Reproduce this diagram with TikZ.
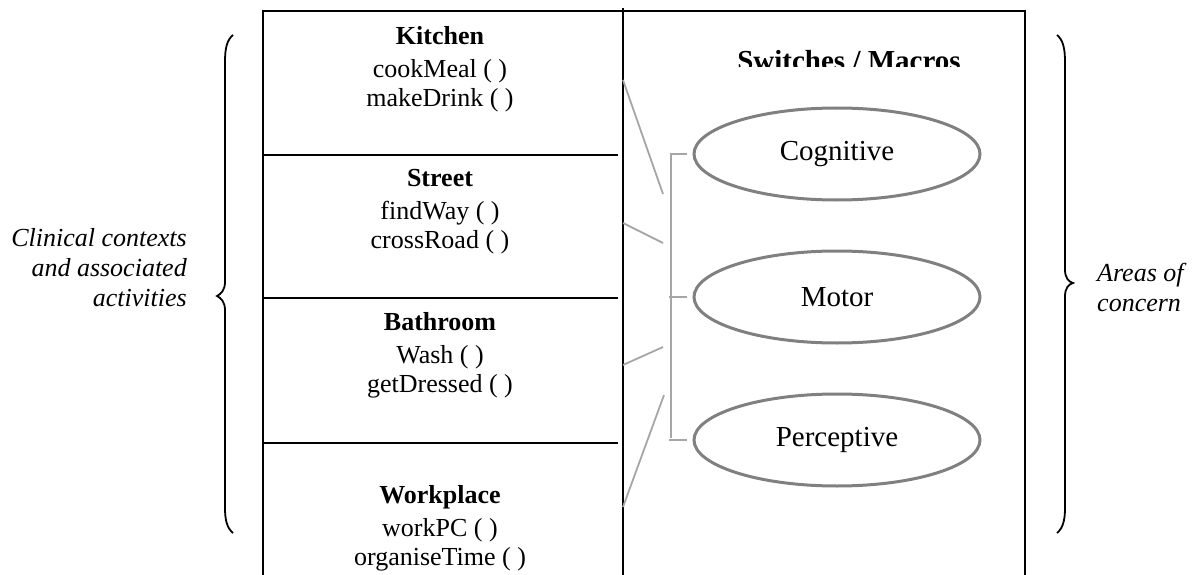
\documentclass[tikz,border=0pt]{standalone}
\usepackage{fontspec}
\setmainfont{Liberation Serif}
\usetikzlibrary{shapes.geometric}

\definecolor{ringgray}{HTML}{808080}
\definecolor{linkgray}{HTML}{A6A6A6}

\tikzset{
  frame/.style={line width=1.8pt, black},
  ctxbox/.style={anchor=north, align=center, inner sep=0pt,
    font=\fontsize{26}{29}\selectfont},
  area/.style={ellipse, draw=ringgray, line width=3pt, inner sep=0pt,
    minimum width=286pt, minimum height=92pt,
    font=\fontsize{29}{33}\selectfont},
  link/.style={linkgray, line width=1.8pt},
  curly/.style={line width=1.8pt, black},
  sidetext/.style={inner sep=0pt, font=\fontsize{26}{30}\selectfont\itshape}
}

\begin{document}
\begin{tikzpicture}[x=1pt, y=-1pt]
\useasboundingbox (0,0) rectangle (1200,575);

% outer frame and column separator
\draw[frame] (263,575) -- (263,11) -- (1025,11) -- (1025,575);
\draw[frame] (623,8) -- (623,575);

% dividers between the context compartments
\draw[frame] (263,155) -- (618,155);
\draw[frame] (263,298) -- (618,298);
\draw[frame] (263,443) -- (618,443);

% contexts with their activities
\node[ctxbox] (kitchen) at (440,26)
  {\textbf{Kitchen}\\[4pt]cookMeal ( )\\makeDrink ( )};
\node[ctxbox] (street) at (440,169)
  {\textbf{Street}\\[4pt]findWay ( )\\crossRoad ( )};
\node[ctxbox] (bathroom) at (440,312)
  {\textbf{Bathroom}\\[4pt]Wash ( )\\getDressed ( )};
\node[ctxbox] (workplace) at (440,485)
  {\textbf{Workplace}\\[4pt]workPC ( )\\organiseTime ( )};

% column heading, cut off at the bottom
\begin{scope}
  \clip (625,13) rectangle (1023,67);
  \node[anchor=base, inner sep=0pt, font=\fontsize{29}{33}\selectfont\bfseries]
    (switches) at (849,71) {Switches / Macros};
\end{scope}

% areas of concern
\node[area] (cog)  at (837,154) {Cognitive};
\node[area] (mot)  at (837,297) {Motor};
\node[area] (perc) at (837,440) {Perceptive};

% bracket gathering the three areas
\coordinate (bt) at (671,154);
\coordinate (bb) at (671,438);
\draw[link] ([xshift=-6pt]cog.west) -- (bt) -- (bb);
\draw[link] ([xshift=-6pt]mot.west) -- (669,297);
\draw[link] ([xshift=-6pt]perc.west) -- (669,440);

% links from each context to the bracket
\coordinate (k1) at (623,80);  \coordinate (k2) at (663,194);
\coordinate (s1) at (623,223); \coordinate (s2) at (663,243);
\coordinate (b1) at (623,365); \coordinate (b2) at (663,347);
\coordinate (w1) at (623,507); \coordinate (w2) at (664,395);
\draw[link] (k1) -- (k2);
\draw[link] (s1) -- (s2);
\draw[link] (b1) -- (b2);
\draw[link] (w1) -- (w2);

% left brace and its caption
\draw[curly] (233,35) .. controls (227,40) and (225,48) .. (225,62)
  -- (225,282) .. controls (225,290) and (221,294) .. (217,296)
  .. controls (221,298) and (225,302) .. (225,310)
  -- (225,508) .. controls (225,520) and (227,528) .. (233,533);
\node[sidetext, anchor=east, align=right] (ctxlabel) at (187,268)
  {Clinical contexts\\and associated\\activities};

% right brace and its caption
\draw[curly] (1057,35) .. controls (1063,40) and (1065,48) .. (1065,62)
  -- (1065,270) .. controls (1065,278) and (1069,282) .. (1073,283)
  .. controls (1069,284) and (1065,288) .. (1065,296)
  -- (1065,508) .. controls (1065,520) and (1063,528) .. (1057,533);
\node[sidetext, anchor=west, align=left] (arealabel) at (1097,287)
  {Areas of\\concern};

\end{tikzpicture}
\end{document}
